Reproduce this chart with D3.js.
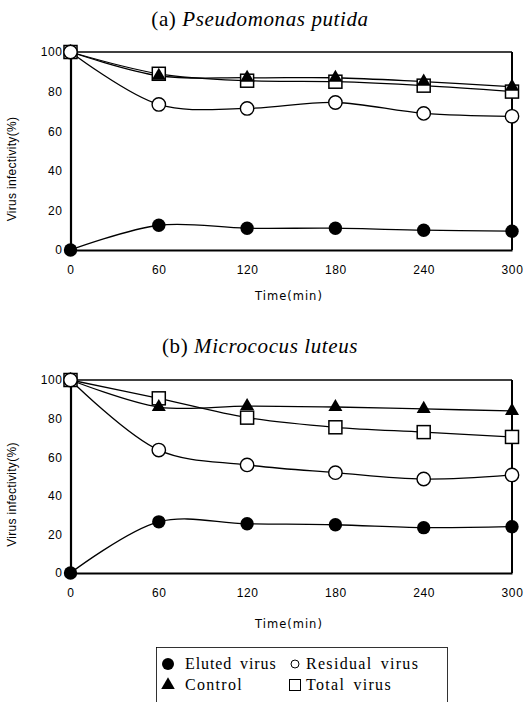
<!DOCTYPE html>
<html><head><meta charset="utf-8">
<script src="https://cdn.jsdelivr.net/npm/d3@7"></script>
<style>body{margin:0;background:#fff}svg{display:block}</style>
</head><body>
<svg id="c" width="529" height="702"></svg>
<script>
const times = [0, 60, 120, 180, 240, 300];
const xTicks = [0, 60, 120, 180, 240, 300];
const yTicks = [0, 20, 40, 60, 80, 100];
// Panel (a) Pseudomonas putida
const aEluted   = [0, 12.5, 11, 11, 10, 9.5];
const aResidual = [100, 73.5, 71.5, 74.5, 69, 67.5];
const aControl  = [100, 88, 87, 87, 85, 82.5];
const aTotal    = [100, 89, 85.5, 85, 83, 80];
// Panel (b) Micrococus luteus
const bEluted   = [0, 26.5, 25.5, 25, 23.5, 24];
const bResidual = [100, 63.7, 56, 52, 48.7, 50.8];
const bControl  = [100, 86, 86.5, 86, 85, 84];
const bTotal    = [100, 90.5, 80.5, 75.5, 73, 70.5];
const legendLabels = ["Eluted virus", "Residual virus", "Control", "Total virus"];

const svg = d3.select("#c");
const sans = "'Liberation Sans',Arial,sans-serif";
const serif = "'Liberation Serif','Times New Roman',serif";

function panel(cfg) {
  const x = d3.scaleLinear().domain([0, 300]).range([70.5, 512]);
  const y = d3.scaleLinear().domain([0, 100]).range([cfg.y0, cfg.y100]);
  const g = svg.append("g");
  // title
  const t = g.append("text").attr("x", 260).attr("y", cfg.titleY).attr("text-anchor", "middle")
    .style("font-family", serif).style("font-size", "21px").style("letter-spacing", "0.6px");
  t.append("tspan").text(cfg.prefix + " ");
  t.append("tspan").style("font-style", "italic").text(cfg.species);
  // frame
  g.append("line").attr("x1", x(0)).attr("x2", x(300)).attr("y1", y(100)).attr("y2", y(100)).attr("stroke", "#000").attr("stroke-width", 1.6);
  g.append("line").attr("x1", x(300)).attr("x2", x(300)).attr("y1", y(100)).attr("y2", y(0)).attr("stroke", "#000").attr("stroke-width", 2);
  // axes
  const ya = d3.axisLeft(y).tickValues(yTicks).tickSize(0).tickPadding(8);
  const ga = g.append("g").attr("transform", `translate(${x(0)},0)`).call(ya);
  ga.select(".domain").attr("stroke-width", 2.2);
  ga.selectAll("text").style("font-family", sans).style("font-size", "12px").style("letter-spacing", "0.6px");
  const xa = d3.axisBottom(x).tickValues(xTicks).tickSize(0).tickPadding(15);
  const gx = g.append("g").attr("transform", `translate(0,${y(0)})`).call(xa);
  gx.select(".domain").attr("stroke-width", 2.2);
  gx.selectAll("text").style("font-family", sans).style("font-size", "12px").style("letter-spacing", "0.6px");
  // axis titles
  g.append("text").attr("x", 289).attr("y", cfg.xTitleY).attr("text-anchor", "middle")
    .style("font-family", "'DejaVu Sans',sans-serif").style("font-size", "11.5px").style("letter-spacing", "1px").text("Time(min)");
  g.append("text").attr("transform", `translate(16,${(y(0) + y(100)) / 2 + 18}) rotate(-90)`).attr("text-anchor", "middle")
    .style("font-family", sans).style("font-size", "12px").style("letter-spacing", "0.3px").text("Virus infectivity(%)");

  const line = d3.line().x((d, i) => x(times[i])).y(d => y(d)).curve(d3.curveCatmullRom.alpha(0.5));
  const series = [cfg.total, cfg.control, cfg.residual, cfg.eluted];
  series.forEach(s => g.append("path").attr("d", line(s)).attr("fill", "none").attr("stroke", "#000").attr("stroke-width", 1.3));

  const pts = (arr) => arr.map((v, i) => [x(times[i]), y(v)]);
  // total: open squares
  g.selectAll(null).data(pts(cfg.total)).join("rect")
    .attr("x", d => d[0] - 6.5).attr("y", d => d[1] - 6.5).attr("width", 13).attr("height", 13)
    .attr("fill", "#fff").attr("stroke", "#000").attr("stroke-width", 1.5);
  // control: filled triangles
  const tri = d3.symbol().type(d3.symbolTriangle).size(85);
  g.selectAll(null).data(pts(cfg.control)).join("path")
    .attr("d", tri).attr("transform", d => `translate(${d[0]},${d[1]})`).attr("fill", "#000");
  // residual: open circles
  g.selectAll(null).data(pts(cfg.residual)).join("circle")
    .attr("cx", d => d[0]).attr("cy", d => d[1]).attr("r", 6.7)
    .attr("fill", "#fff").attr("stroke", "#000").attr("stroke-width", 1.4);
  // eluted: filled circles
  g.selectAll(null).data(pts(cfg.eluted)).join("circle")
    .attr("cx", d => d[0]).attr("cy", d => d[1]).attr("r", 6.7).attr("fill", "#000");
}

panel({prefix: "(a)", species: "Pseudomonas putida", titleY: 26, y0: 250, y100: 52, xTitleY: 300,
  eluted: aEluted, residual: aResidual, control: aControl, total: aTotal});
panel({prefix: "(b)", species: "Micrococus luteus", titleY: 353, y0: 573, y100: 380, xTitleY: 628,
  eluted: bEluted, residual: bResidual, control: bControl, total: bTotal});

// legend
const lg = svg.append("g");
lg.append("rect").attr("x", 156.5).attr("y", 647.5).attr("width", 291).attr("height", 60)
  .attr("fill", "none").attr("stroke", "#000").attr("stroke-width", 0.8);
const items = [
  {x: 168, y: 664, tx: 185},
  {x: 295, y: 664, tx: 306},
  {x: 168, y: 685, tx: 185},
  {x: 295, y: 685, tx: 306}
];
lg.append("circle").attr("cx", items[0].x).attr("cy", items[0].y).attr("r", 6).attr("fill", "#000");
lg.append("circle").attr("cx", items[1].x).attr("cy", items[1].y).attr("r", 4).attr("fill", "none").attr("stroke", "#000").attr("stroke-width", 1);
lg.append("path").attr("d", d3.symbol().type(d3.symbolTriangle).size(80)).attr("transform", `translate(${items[2].x},${items[2].y})`).attr("fill", "#000");
lg.append("rect").attr("x", items[3].x - 5.5).attr("y", items[3].y - 5.5).attr("width", 11).attr("height", 11).attr("fill", "none").attr("stroke", "#000").attr("stroke-width", 1);
items.forEach((it, i) => {
  lg.append("text").attr("x", it.tx).attr("y", it.y + 5)
    .style("font-family", serif).style("font-size", "16px")
    .style("letter-spacing", i === 0 ? "0.9px" : "1.3px").style("word-spacing", "3px")
    .text(legendLabels[i]);
});
</script>
</body></html>
